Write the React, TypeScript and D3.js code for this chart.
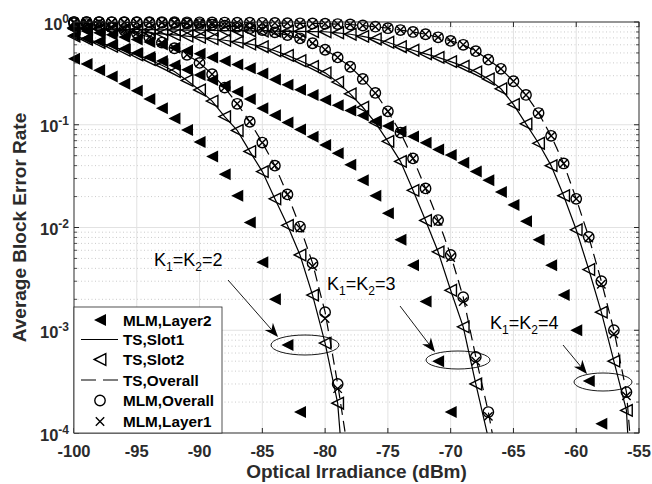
import React from 'react';
import * as d3 from 'd3';

// x runs -100, -99, ... one value per dBm
const xStart = -100;

const xTicks = [-100, -95, -90, -85, -80, -75, -70, -65, -60, -55];
const yTickExps = [-4, -3, -2, -1, 0];

// K1=K2=2
const k2Layer2 = [0.44, 0.39, 0.34, 0.295, 0.25, 0.214, 0.178, 0.145, 0.115, 0.089, 0.068, 0.049, 0.033, 0.0204, 0.0112, 0.0046, 0.002, 0.00072, 0.00016];
const k2Slot = [0.73, 0.68, 0.63, 0.58, 0.53, 0.48, 0.43, 0.38, 0.33, 0.27, 0.218, 0.17, 0.12, 0.088, 0.055, 0.035, 0.019, 0.0105, 0.0054, 0.0022, 0.00075, 0.000195, 0.000006];
const k2Overall = [0.975, 0.955, 0.925, 0.885, 0.835, 0.78, 0.71, 0.63, 0.555, 0.48, 0.4, 0.31, 0.23, 0.16, 0.107, 0.067, 0.04, 0.021, 0.0102, 0.0045, 0.0015, 0.0003, 0.000048];
const k2Layer1 = [0.975, 0.955, 0.925, 0.885, 0.835, 0.78, 0.71, 0.63, 0.555, 0.48, 0.4, 0.31, 0.23, 0.16, 0.107, 0.067, 0.04, 0.021, 0.0099, 0.0042, 0.0013, 0.00027];

// K1=K2=3
const k3Layer2 = [0.74, 0.69, 0.645, 0.6, 0.55, 0.5, 0.457, 0.417, 0.38, 0.343, 0.305, 0.272, 0.24, 0.209, 0.178, 0.145, 0.124, 0.105, 0.09, 0.0766, 0.0635, 0.0527, 0.0407, 0.0288, 0.0204, 0.0138, 0.0076, 0.0043, 0.0019, 0.0005, 0.00016];
const k3Slot = [0.88, 0.87, 0.855, 0.84, 0.82, 0.8, 0.785, 0.767, 0.75, 0.73, 0.71, 0.687, 0.664, 0.637, 0.61, 0.575, 0.525, 0.473, 0.42, 0.37, 0.32, 0.26, 0.2, 0.148, 0.105, 0.069, 0.044, 0.023, 0.0117, 0.0058, 0.00245, 0.00108, 0.0003, 0.000089];
const k3Overall = [0.998, 0.997, 0.995, 0.993, 0.991, 0.989, 0.986, 0.982, 0.975, 0.966, 0.955, 0.94, 0.92, 0.897, 0.87, 0.836, 0.794, 0.746, 0.693, 0.621, 0.537, 0.452, 0.367, 0.279, 0.204, 0.135, 0.084, 0.047, 0.024, 0.0118, 0.0054, 0.0021, 0.00055, 0.00016, 0.000035];
const k3Layer1 = [0.998, 0.997, 0.995, 0.993, 0.991, 0.989, 0.986, 0.982, 0.975, 0.966, 0.955, 0.94, 0.92, 0.897, 0.87, 0.836, 0.794, 0.746, 0.693, 0.621, 0.537, 0.452, 0.367, 0.279, 0.204, 0.135, 0.084, 0.047, 0.024, 0.0115, 0.0051, 0.0019, 0.0005, 0.000145];

// K1=K2=4
const k4Layer2 = [0.851, 0.818, 0.785, 0.75, 0.713, 0.676, 0.638, 0.603, 0.562, 0.525, 0.49, 0.452, 0.417, 0.385, 0.355, 0.316, 0.275, 0.245, 0.219, 0.195, 0.174, 0.155, 0.138, 0.123, 0.108, 0.097, 0.086, 0.0767, 0.0668, 0.0575, 0.0507, 0.0427, 0.0351, 0.0288, 0.0221, 0.0166, 0.0115, 0.0076, 0.0043, 0.0022, 0.001, 0.00032, 0.000123];
const k4Slot = [0.861, 0.858, 0.855, 0.852, 0.849, 0.846, 0.843, 0.84, 0.838, 0.835, 0.832, 0.829, 0.826, 0.823, 0.82, 0.817, 0.815, 0.812, 0.809, 0.806, 0.804, 0.785, 0.76, 0.724, 0.684, 0.635, 0.575, 0.531, 0.49, 0.452, 0.412, 0.372, 0.327, 0.279, 0.224, 0.158, 0.102, 0.066, 0.04, 0.0204, 0.0095, 0.0039, 0.0015, 0.0005, 0.000166, 0.000001];
const k4Overall = [0.999, 0.999, 0.998, 0.998, 0.997, 0.997, 0.996, 0.995, 0.994, 0.993, 0.992, 0.99, 0.988, 0.986, 0.984, 0.981, 0.978, 0.975, 0.971, 0.967, 0.962, 0.955, 0.945, 0.925, 0.9, 0.87, 0.835, 0.8, 0.76, 0.71, 0.655, 0.6, 0.52, 0.43, 0.35, 0.265, 0.195, 0.13, 0.078, 0.042, 0.019, 0.0081, 0.003, 0.001, 0.00025, 0.000008];
const k4Layer1 = [0.999, 0.999, 0.998, 0.998, 0.997, 0.997, 0.996, 0.995, 0.994, 0.993, 0.992, 0.99, 0.988, 0.986, 0.984, 0.981, 0.978, 0.975, 0.971, 0.967, 0.962, 0.955, 0.945, 0.925, 0.9, 0.87, 0.835, 0.8, 0.76, 0.71, 0.655, 0.6, 0.52, 0.43, 0.35, 0.265, 0.195, 0.13, 0.078, 0.042, 0.019, 0.0079, 0.0028, 0.00092, 0.00023];

const groups = [
  { layer2: k2Layer2, slot: k2Slot, overall: k2Overall, layer1: k2Layer1 },
  { layer2: k3Layer2, slot: k3Slot, overall: k3Overall, layer1: k3Layer1 },
  { layer2: k4Layer2, slot: k4Slot, overall: k4Overall, layer1: k4Layer1 },
];

const legendLabels = ['MLM,Layer2', 'TS,Slot1', 'TS,Slot2', 'TS,Overall', 'MLM,Overall', 'MLM,Layer1'];

// annotation: label, text origin, arrow from/to, ellipse center
const notes = [
  { k: '2', tx: 154, ty: 266, ax1: 228, ay1: 280, ax2: 278, ay2: 337, ex: 305, ey: 345, rx: 34, ry: 10 },
  { k: '3', tx: 327, ty: 290, ax1: 400, ay1: 306, ax2: 435, ay2: 352, ex: 458, ey: 360, rx: 32, ry: 9 },
  { k: '4', tx: 490, ty: 329, ax1: 563, ay1: 345, ax2: 587, ay2: 374, ex: 603, ey: 382, rx: 29, ry: 9 },
];

const W = 652;
const H = 484;
const left = 74, right = 639, top = 22, bottom = 433;
const ink = '#262626';
const txt = '#2b2b2b';
const font = '"Liberation Sans", Arial, Helvetica, sans-serif';

const x = d3.scaleLinear().domain([-100, -55]).range([left, right]);
const y = d3.scaleLog().domain([1e-4, 1]).range([bottom, top]);

const pts = (vals: number[]) => vals.map((v, i) => [xStart + i, v] as [number, number]);
const inRange = (p: [number, number]) => p[1] >= 1e-4 && p[1] <= 1.0001;

const line = d3.line<[number, number]>().x((d) => x(d[0])).y((d) => y(d[1]));

const triPath = (h: number) => `M${-h},0L${h},${-h}L${h},${h}Z`;

const FilledTri = ({ cx, cy }: { cx: number; cy: number }) => (
  <path d={triPath(6)} transform={`translate(${cx},${cy})`} fill="#000" />
);
const OpenTri = ({ cx, cy }: { cx: number; cy: number }) => (
  <path d={triPath(5.8)} transform={`translate(${cx},${cy})`} fill="none" stroke="#000" strokeWidth={1.4} strokeLinejoin="miter" />
);
const Circ = ({ cx, cy }: { cx: number; cy: number }) => (
  <circle cx={cx} cy={cy} r={5.2} fill="none" stroke="#000" strokeWidth={1.4} />
);
const Cross = ({ cx, cy }: { cx: number; cy: number }) => (
  <path d={`M${cx - 4.2},${cy - 4.2}L${cx + 4.2},${cy + 4.2}M${cx - 4.2},${cy + 4.2}L${cx + 4.2},${cy - 4.2}`} stroke="#000" strokeWidth={1.4} />
);

const KLabel = ({ k, tx, ty }: { k: string; tx: number; ty: number }) => (
  <text x={tx} y={ty} fontFamily={font} fontSize={18} fill="#000">
    <tspan>K</tspan>
    <tspan dy={5} fontSize={12}>1</tspan>
    <tspan dy={-5}>=K</tspan>
    <tspan dy={5} fontSize={12}>2</tspan>
    <tspan dy={-5}>={k}</tspan>
  </text>
);

const Arrow = ({ x1, y1, x2, y2 }: { x1: number; y1: number; x2: number; y2: number }) => {
  const a = Math.atan2(y2 - y1, x2 - x1);
  const len = 14, hw = 5.5;
  const bx = x2 - len * Math.cos(a), by = y2 - len * Math.sin(a);
  const nx = -Math.sin(a), ny = Math.cos(a);
  const mx = x2 - len * 0.7 * Math.cos(a), my = y2 - len * 0.7 * Math.sin(a);
  const head = `M${x2},${y2}L${bx + nx * hw},${by + ny * hw}L${mx},${my}L${bx - nx * hw},${by - ny * hw}Z`;
  return (
    <g>
      <line x1={x1} y1={y1} x2={mx} y2={my} stroke="#000" strokeWidth={0.9} />
      <path d={head} fill="#000" />
    </g>
  );
};

const App = () => {
  const minorVals: number[] = [];
  yTickExps.slice(0, -1).forEach((e) => {
    for (let m = 2; m <= 9; m++) minorVals.push(m * Math.pow(10, e));
  });

  const legendY = [320, 339.5, 359.5, 380, 400.5, 421.5];

  return (
    <svg width={W} height={H} style={{ display: 'block', position: 'absolute', left: 0, top: 0 }}>
      <rect x={0} y={0} width={W} height={H} fill="#fff" />
      <defs>
        <clipPath id="plotclip">
          <rect x={left} y={top} width={right - left} height={bottom - top} />
        </clipPath>
      </defs>

      {/* grid */}
      {minorVals.map((v) => (
        <line key={'mg' + v} x1={left} x2={right} y1={y(v)} y2={y(v)} stroke="#b4b4b4" strokeWidth={0.7} strokeDasharray="1,2.5" />
      ))}
      {xTicks.map((t) => (
        <line key={'gx' + t} x1={x(t)} x2={x(t)} y1={top} y2={bottom} stroke="#e2e2e2" strokeWidth={1} />
      ))}
      {yTickExps.map((e) => (
        <line key={'gy' + e} x1={left} x2={right} y1={y(Math.pow(10, e))} y2={y(Math.pow(10, e))} stroke="#e2e2e2" strokeWidth={1} />
      ))}

      {/* lines */}
      <g clipPath="url(#plotclip)">
        {groups.map((g, i) => (
          <g key={'ln' + i}>
            <path d={line(pts(g.slot)) || ''} fill="none" stroke="#000" strokeWidth={1.2} />
            <path d={line(pts(g.overall)) || ''} fill="none" stroke="#000" strokeWidth={1.2} strokeDasharray="11,6" />
          </g>
        ))}
      </g>

      {/* markers */}
      {groups.map((g, i) => (
        <g key={'mk' + i}>
          {pts(g.layer2).filter(inRange).map((p) => (
            <FilledTri key={'f' + p[0]} cx={x(p[0])} cy={y(p[1])} />
          ))}
          {pts(g.slot).filter(inRange).map((p) => (
            <OpenTri key={'o' + p[0]} cx={x(p[0])} cy={y(p[1])} />
          ))}
          {pts(g.overall).filter(inRange).map((p) => (
            <Circ key={'c' + p[0]} cx={x(p[0])} cy={y(p[1])} />
          ))}
          {pts(g.layer1).filter(inRange).map((p) => (
            <Cross key={'x' + p[0]} cx={x(p[0])} cy={y(p[1])} />
          ))}
        </g>
      ))}

      {/* axes box and ticks */}
      <rect x={left} y={top} width={right - left} height={bottom - top} fill="none" stroke={ink} strokeWidth={0.9} />
      {xTicks.map((t) => (
        <g key={'tx' + t}>
          <line x1={x(t)} x2={x(t)} y1={bottom} y2={bottom - 5} stroke={ink} />
          <line x1={x(t)} x2={x(t)} y1={top} y2={top + 5} stroke={ink} />
          <text x={x(t)} y={457} textAnchor="middle" fontFamily={font} fontWeight="bold" fontSize={16.5} fill={txt}>
            {t}
          </text>
        </g>
      ))}
      {yTickExps.map((e) => {
        const yy = y(Math.pow(10, e));
        return (
          <g key={'ty' + e}>
            <line x1={left} x2={left + 5} y1={yy} y2={yy} stroke={ink} />
            <line x1={right} x2={right - 5} y1={yy} y2={yy} stroke={ink} />
            <text x={69} y={yy + 7.5} textAnchor="end" fontFamily={font} fontWeight="bold" fontSize={16.5} fill={txt}>
              <tspan>10</tspan>
              <tspan dy={-7} fontSize={12}>{e}</tspan>
            </text>
          </g>
        );
      })}
      {minorVals.map((v) => (
        <g key={'mt' + v}>
          <line x1={left} x2={left + 3} y1={y(v)} y2={y(v)} stroke={ink} strokeWidth={0.8} />
          <line x1={right} x2={right - 3} y1={y(v)} y2={y(v)} stroke={ink} strokeWidth={0.8} />
        </g>
      ))}

      {/* axis titles */}
      <text x={(left + right) / 2} y={478} textAnchor="middle" fontFamily={font} fontWeight="bold" fontSize={19} fill={txt}>
        Optical Irradiance (dBm)
      </text>
      <text transform={`translate(25.5,${(top + bottom) / 2}) rotate(-90)`} textAnchor="middle" fontFamily={font} fontWeight="bold" fontSize={19} fill={txt}>
        Average Block Error Rate
      </text>

      {/* annotations */}
      {notes.map((n) => (
        <g key={'n' + n.k}>
          <KLabel k={n.k} tx={n.tx} ty={n.ty} />
          <Arrow x1={n.ax1} y1={n.ay1} x2={n.ax2} y2={n.ay2} />
          <ellipse cx={n.ex} cy={n.ey} rx={n.rx} ry={n.ry} fill="none" stroke="#000" strokeWidth={0.9} />
        </g>
      ))}

      {/* legend */}
      <rect x={left} y={307} width={148} height={bottom - 307} fill="#fff" stroke={ink} strokeWidth={0.8} />
      {legendLabels.map((lab, i) => {
        const ly = legendY[i];
        const mx = 100;
        return (
          <g key={lab}>
            {i === 0 && <FilledTri cx={mx} cy={ly} />}
            {i === 1 && <line x1={81} x2={118} y1={ly} y2={ly} stroke="#000" strokeWidth={1.2} />}
            {i === 2 && <OpenTri cx={mx} cy={ly} />}
            {i === 3 && <line x1={81} x2={118} y1={ly} y2={ly} stroke="#000" strokeWidth={1.2} strokeDasharray="15,7" />}
            {i === 4 && <Circ cx={mx} cy={ly} />}
            {i === 5 && <Cross cx={mx} cy={ly} />}
            <text x={123} y={ly + 5.5} fontFamily={font} fontWeight="bold" fontSize={15.3} fill="#000">
              {lab}
            </text>
          </g>
        );
      })}
    </svg>
  );
};

export default App;
